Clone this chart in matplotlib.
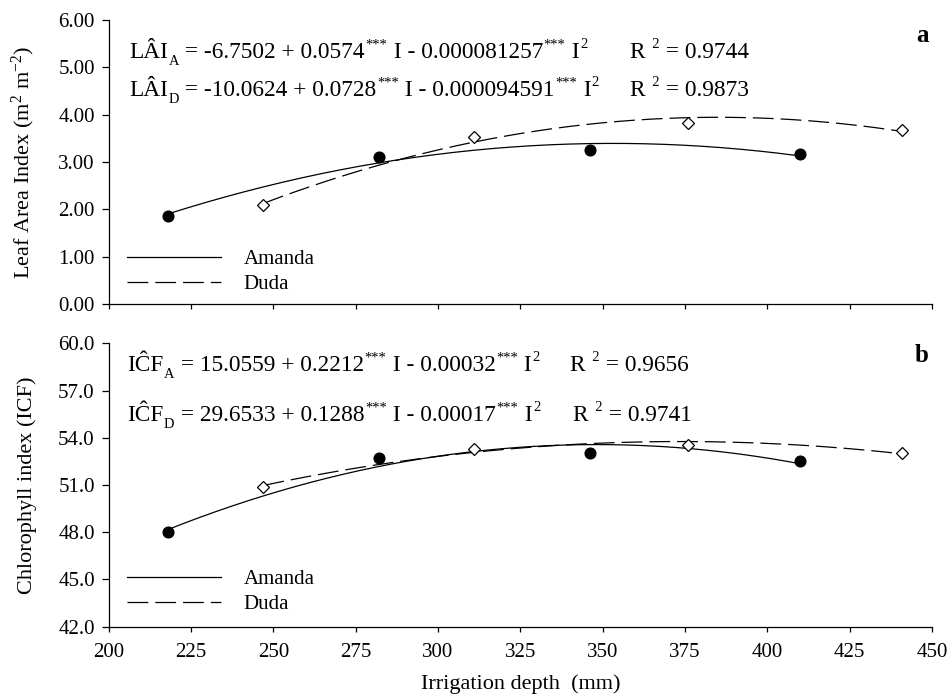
import numpy as np
import matplotlib
matplotlib.use("Agg")
import matplotlib.pyplot as plt
from matplotlib.lines import Line2D

plt.rcParams['font.family'] = ['Liberation Serif', 'DejaVu Serif']
plt.rcParams['mathtext.fontset'] = 'custom'
plt.rcParams['mathtext.rm'] = 'Liberation Serif'
plt.rcParams['mathtext.it'] = 'Liberation Serif:italic'
plt.rcParams['mathtext.bf'] = 'Liberation Serif:bold'
plt.rcParams['lines.scale_dashes'] = False

# ---- data ----
depth_amanda = [218, 282, 346, 410]
depth_duda = [247, 311, 376, 441]
lai_amanda = [1.86, 3.11, 3.26, 3.17]
lai_duda = [2.09, 3.53, 3.83, 3.68]
icf_amanda = [48.0, 52.69, 53.05, 52.52]
icf_duda = [50.9, 53.3, 53.54, 53.05]

x_ticks = [200, 225, 250, 275, 300, 325, 350, 375, 400, 425, 450]
lai_ticks = [0, 1, 2, 3, 4, 5, 6]
icf_ticks = [42, 45, 48, 51, 54, 57, 60]

# equation pieces: (text, kind)  kind: n = normal, b = subscript, p = superscript
eq_lai_a = [("LÂI", "n"), ("A", "b"), (" = -6.7502 + 0.0574", "n"), ("***", "p"),
            (" I - 0.000081257", "n"), ("***", "p"), (" I", "n"), ("2", "p")]
eq_lai_d = [("LÂI", "n"), ("D", "b"), (" = -10.0624 + 0.0728", "n"), ("***", "p"),
            (" I - 0.000094591", "n"), ("***", "p"), (" I", "n"), ("2", "p")]
r2_lai_a = [("R", "n"), ("  2", "p"), (" = 0.9744", "n")]
r2_lai_d = [("R", "n"), ("  2", "p"), (" = 0.9873", "n")]
eq_icf_a = [("IĈF", "n"), ("A", "b"), (" = 15.0559 + 0.2212", "n"), ("***", "p"),
            (" I - 0.00032", "n"), ("***", "p"), (" I", "n"), ("2", "p")]
eq_icf_d = [("IĈF", "n"), ("D", "b"), (" = 29.6533 + 0.1288", "n"), ("***", "p"),
            (" I - 0.00017", "n"), ("***", "p"), (" I", "n"), ("2", "p")]
r2_icf_a = [("R", "n"), ("  2", "p"), (" = 0.9656", "n")]
r2_icf_d = [("R", "n"), ("  2", "p"), (" = 0.9741", "n")]

W, H = 947, 698
fig = plt.figure(figsize=(W / 100, H / 100), dpi=100)
renderer = fig.canvas.get_renderer()

def fx(px):
    return px / W

def fy(py):
    return 1 - py / H

ax_l, ax_r = 108.7, 932.0
ax1 = fig.add_axes([fx(ax_l), fy(304), fx(ax_r - ax_l), (304 - 20) / H])
ax2 = fig.add_axes([fx(ax_l), fy(626.7), fx(ax_r - ax_l), (626.7 - 343.3) / H])

DASH = (0, (15, 5))
FS_TICK = 15
FS_EQ = 16.8

def draw(ax, xa, ya, xd, yd, leg_y):
    for xs, ys, ls in ((xa, ya, '-'), (xd, yd, DASH)):
        c = np.polyfit(xs, ys, 2)
        xx = np.linspace(min(xs), max(xs), 200)
        ax.plot(xx, np.polyval(c, xx), color='black', lw=0.9, linestyle=ls, zorder=2)
    ax.plot(xa, ya, 'o', color='black', ms=7.7, zorder=3, linestyle='none')
    ax.plot(xd, yd, 'D', mfc='white', mec='black', mew=0.9, ms=6.2, zorder=3, linestyle='none')
    for s in ('top', 'right'):
        ax.spines[s].set_visible(False)
    for s in ('left', 'bottom'):
        ax.spines[s].set_linewidth(0.9)
    ax.set_xlim(200, 450)
    ax.set_xticks(x_ticks)
    ax.tick_params(axis='y', direction='out', length=5, width=0.9, pad=5, labelsize=FS_TICK)
    ax.tick_params(axis='x', direction='out', length=3.5, width=0.9, pad=8, labelsize=FS_TICK)
    handles = [Line2D([], [], color='black', lw=0.9, linestyle='-'),
               Line2D([], [], color='black', lw=0.9, linestyle=DASH)]
    ax.legend(handles, ['Amanda', 'Duda'], loc='lower left', bbox_to_anchor=(0.022, leg_y),
              frameon=False, fontsize=FS_TICK, handlelength=4.5, handletextpad=1.1,
              labelspacing=0.25, borderpad=0, borderaxespad=0)

draw(ax1, depth_amanda, lai_amanda, depth_duda, lai_duda, 0.035)
draw(ax2, depth_amanda, icf_amanda, depth_duda, icf_duda, 0.045)

ax1.set_ylim(0, 6)
ax1.set_yticks(lai_ticks)
ax1.set_yticklabels([f"{v:.2f}" for v in lai_ticks])
ax1.set_xticklabels([])
ax2.set_ylim(42, 60)
ax2.set_yticks(icf_ticks)
ax2.set_yticklabels([f"{v:.1f}" for v in icf_ticks])
ax2.set_xticklabels([str(v) for v in x_ticks])

ax1.set_ylabel(r"Leaf Area Index (m$^{2}$ m$^{-2}$)", fontsize=16)
ax2.set_ylabel("Chlorophyll index (ICF)", fontsize=16)
ax1.yaxis.set_label_coords((37 - ax_l) / (ax_r - ax_l), 0.5)
ax2.yaxis.set_label_coords((37 - ax_l) / (ax_r - ax_l), 0.5)
ax2.set_xlabel("Irrigation depth  (mm)", fontsize=16, labelpad=9)


def rich(x_px, base_px, pieces, fs):
    x = x_px
    for txt, kind in pieces:
        if kind == "n":
            size, dy = fs, 0.0
        elif kind == "b":
            size, dy = fs * 0.62, -0.32 * fs * 1.39
        else:
            size, dy = fs * 0.62, 0.42 * fs * 1.39
        t = fig.text(fx(x), fy(base_px - dy), txt, fontsize=size, ha='left', va='baseline')
        bb = t.get_window_extent(renderer)
        x = bb.x1 + 0.5


rich(129, 58, eq_lai_a, FS_EQ)
rich(129, 96, eq_lai_d, FS_EQ)
rich(629, 58, r2_lai_a, FS_EQ)
rich(629, 96, r2_lai_d, FS_EQ)
rich(127, 371, eq_icf_a, FS_EQ)
rich(127, 421, eq_icf_d, FS_EQ)
rich(569, 371, r2_icf_a, FS_EQ)
rich(572, 421, r2_icf_d, FS_EQ)

fig.text(fx(922), fy(35), "a", fontsize=18, fontweight='bold', ha='center', va='center')
fig.text(fx(922), fy(355), "b", fontsize=18, fontweight='bold', ha='center', va='center')

fig.savefig("out.png", dpi=100)
